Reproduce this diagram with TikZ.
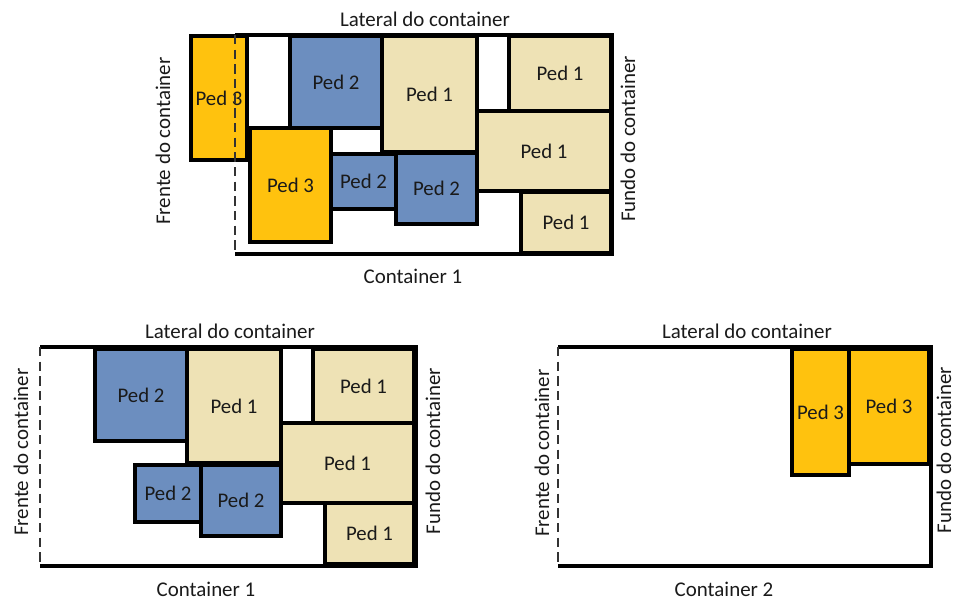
\documentclass[tikz,border=0pt]{standalone}
\usepackage{fontspec}
\setmainfont{Carlito}
\definecolor{pgold}{HTML}{FFC20E}
\definecolor{pblue}{HTML}{6C8EBF}
\definecolor{ptan}{HTML}{EEE2B5}
\definecolor{ptext}{HTML}{1A1A1A}
\newcommand\pbox[7]{\node[pbox, fill=#6, minimum width={0.75pt*(#4-#2)}, minimum height={0.75pt*(#5-#3)}] (#1) at ({(#2+#4)/2},{(#3+#5)/2}) {#7};}
\newcommand\contwalls[5]{%
  \coordinate (#1tl) at (#2,#3); \coordinate (#1tr) at (#4,#3);
  \coordinate (#1br) at (#4,#5); \coordinate (#1bl) at (#2,#5);
  \draw[wall] (#1tl) -- (#1tr) -- (#1br) -- (#1bl);}
\begin{document}
\begin{tikzpicture}[x=0.75pt,y=-0.75pt,
  pbox/.style={draw=black, line width=2.6pt, inner sep=0pt, text=ptext, font=\fontsize{15.6}{18}\selectfont},
  lbl/.style={text=ptext, font=\fontsize{15.7}{18}\selectfont, inner sep=0pt},
  wall/.style={draw=black, line width=3pt, line join=miter},
  front/.style={draw=black!80, line width=0.8pt, dash pattern=on 7pt off 4pt}]
\useasboundingbox (0,0) rectangle (955,601);

% ---------- Top: Container 1 ----------
\contwalls{A}{235}{35}{612}{254}
\pbox{t3a}{191}{36}{247}{160}{pgold}{Ped 3}
\pbox{t2a}{290}{36}{382}{128}{pblue}{Ped 2}
\pbox{t1a}{382}{36}{477}{152}{ptan}{Ped 1}
\pbox{t3b}{250}{128}{331}{242}{pgold}{Ped 3}
\pbox{t2b}{331}{154}{396}{209}{pblue}{Ped 2}
\pbox{t2c}{396}{153}{477}{224}{pblue}{Ped 2}
\pbox{t1b}{509}{36}{611}{111}{ptan}{Ped 1}
\pbox{t1c}{477}{111}{611}{191}{ptan}{Ped 1}
\pbox{t1d}{521}{192}{611}{253}{ptan}{Ped 1}
\draw[front] (Atl) -- (Abl);
\node[lbl] (Alat) at (425,19) {Lateral do container};
\node[lbl] (Aname) at (413,276) {Container 1};
\node[lbl, rotate=90] (Afre) at (163,141) {Frente do container};
\node[lbl, rotate=90] (Afun) at (628,139) {Fundo do container};

% ---------- Bottom left: Container 1 ----------
\contwalls{B}{40}{347}{416}{566}
\pbox{b2a}{95}{349}{187}{441}{pblue}{Ped 2}
\pbox{b1a}{187}{349}{281}{463}{ptan}{Ped 1}
\pbox{b2b}{135}{465}{201}{522}{pblue}{Ped 2}
\pbox{b2c}{201}{465}{281}{536}{pblue}{Ped 2}
\pbox{b1b}{313}{349}{414}{423}{ptan}{Ped 1}
\pbox{b1c}{281}{423}{414}{503}{ptan}{Ped 1}
\pbox{b1d}{325}{503}{414}{564}{ptan}{Ped 1}
\draw[front] (Btl) -- (Bbl);
\node[lbl] (Blat) at (230,331) {Lateral do container};
\node[lbl] (Bname) at (206,589) {Container 1};
\node[lbl, rotate=90] (Bfre) at (21,452) {Frente do container};
\node[lbl, rotate=90] (Bfun) at (433,451) {Fundo do container};

% ---------- Bottom right: Container 2 ----------
\contwalls{C}{558}{347}{931}{566}
\pbox{r3a}{792}{349}{849}{475}{pgold}{Ped 3}
\pbox{r3b}{849}{349}{929}{464}{pgold}{Ped 3}
\draw[front] (Ctl) -- (Cbl);
\node[lbl] (Clat) at (747,331) {Lateral do container};
\node[lbl] (Cname) at (724,589) {Container 2};
\node[lbl, rotate=90] (Cfre) at (542,453) {Frente do container};
\node[lbl, rotate=90] (Cfun) at (944,450) {Fundo do container};
\end{tikzpicture}
\end{document}
